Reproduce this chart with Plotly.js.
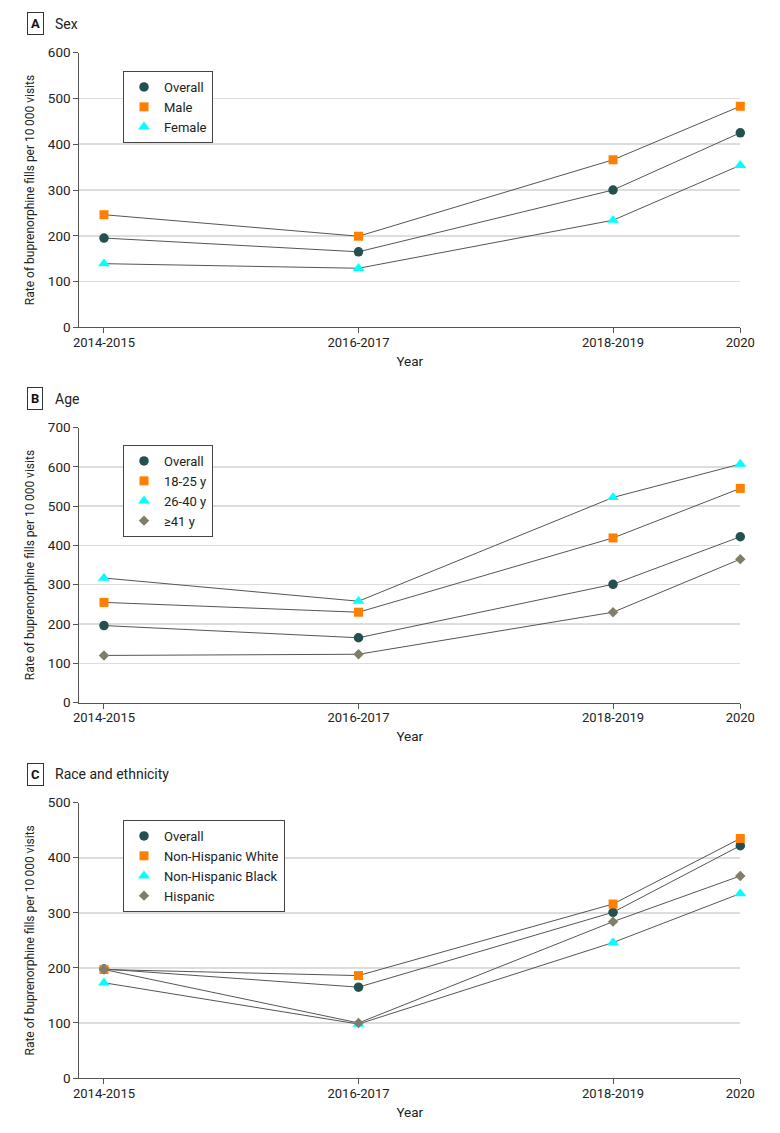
<!DOCTYPE html>
<html>
<head>
<meta charset="utf-8">
<script src="https://cdn.plot.ly/plotly-3.0.1.min.js"></script>
<style>
  html, body { margin: 0; padding: 0; background: #fff; }
  #chart { width: 780px; height: 1133px; }
</style>
</head>
<body>
<div id="chart"></div>
<script>
// ---- Data ----
const periodEnd = [2015, 2017, 2019, 2020];
const periodLabels = ["2014-2015", "2016-2017", "2018-2019", "2020"];

// Panel A: Sex
const sexOverall = [195, 165, 300, 425];
const sexMale = [246, 199, 366, 483];
const sexFemale = [139, 129, 234, 354];

// Panel B: Age
const ageOverall = [196, 165, 301, 422];
const age18to25 = [255, 230, 419, 545];
const age26to40 = [317, 258, 522, 607];
const age41plus = [120, 123, 230, 365];

// Panel C: Race and ethnicity
const raceOverall = [198, 165, 301, 422];
const raceWhite = [197, 186, 316, 435];
const raceBlack = [173, 98, 246, 335];
const raceHispanic = [197, 100, 284, 367];

// ---- Styles ----
const FONT = "Roboto, 'Liberation Sans', Arial, sans-serif";
const C_OVERALL = "#24504f";
const C_ORANGE = "#ff7f00";
const C_CYAN = "#00ffff";
const C_DIAMOND = "#817d68";
const LINE_COLOR = "#555555";

const W = 780, H = 1133;
const xDom = [79.3 / W, 740.3 / W];
const xRange = [2014.806, 2020];

function series(name, yvals, color, symbol, size, xa, ya, legend) {
  return [
    {
      x: periodEnd, y: yvals, xaxis: xa, yaxis: ya, mode: "lines",
      line: { color: LINE_COLOR, width: 1 }, showlegend: false,
      hoverinfo: "skip", cliponaxis: false
    },
    {
      x: periodEnd, y: yvals, xaxis: xa, yaxis: ya, mode: "markers",
      name: name, legend: legend, cliponaxis: false,
      marker: { color: color, symbol: symbol, size: size, line: { width: 0 } }
    }
  ];
}

const panels = [
  { xa: "x", ya: "y", leg: "legend", yTop: 52.7, yBot: 327.3, yMax: 600,
    items: [["Overall", sexOverall, C_OVERALL, "circle", 9.5],
            ["Male", sexMale, C_ORANGE, "square", 9],
            ["Female", sexFemale, C_CYAN, "triangle-up", 10.5]] },
  { xa: "x2", ya: "y2", leg: "legend2", yTop: 427.5, yBot: 702.6, yMax: 700,
    items: [["Overall", ageOverall, C_OVERALL, "circle", 9.5],
            ["18-25 y", age18to25, C_ORANGE, "square", 9],
            ["26-40 y", age26to40, C_CYAN, "triangle-up", 10.5],
            ["≥41 y", age41plus, C_DIAMOND, "diamond", 8]] },
  { xa: "x3", ya: "y3", leg: "legend3", yTop: 802.7, yBot: 1078, yMax: 500,
    items: [["Overall", raceOverall, C_OVERALL, "circle", 9.5],
            ["Non-Hispanic White", raceWhite, C_ORANGE, "square", 9],
            ["Non-Hispanic Black", raceBlack, C_CYAN, "triangle-up", 10.5],
            ["Hispanic", raceHispanic, C_DIAMOND, "diamond", 8]] }
];

const lineTraces = [], markerTraces = [];
panels.forEach(p => {
  p.items.forEach(it => {
    const t = series(it[0], it[1], it[2], it[3], it[4], p.xa, p.ya, p.leg);
    lineTraces.push(t[0]);
    markerTraces.push(t[1]);
  });
});
const data = lineTraces.concat(markerTraces);

const layout = {
  width: W, height: H,
  margin: { l: 0, r: 0, t: 0, b: 0 },
  paper_bgcolor: "#ffffff", plot_bgcolor: "#ffffff",
  font: { family: FONT, size: 13, color: "#222222" },
  showlegend: true,
  annotations: []
};

const panelLetters = ["A", "B", "C"];
const panelNames = ["Sex", "Age", "Race and ethnicity"];
const labelY = [24, 399, 774];
const legendTops = [71, 445, 820];

panels.forEach((p, i) => {
  const sfx = i === 0 ? "" : String(i + 1);
  layout["xaxis" + sfx] = {
    domain: xDom, range: xRange, anchor: "y" + sfx,
    tickmode: "array", tickvals: periodEnd, ticktext: periodLabels,
    ticks: "outside", ticklen: 5, tickcolor: LINE_COLOR, tickwidth: 1,
    ticklabelstandoff: -2,
    showline: true, linecolor: LINE_COLOR, linewidth: 1,
    showgrid: false, zeroline: false, fixedrange: true,
    tickfont: { size: 13, color: "#222" },
    title: { text: "Year", font: { size: 13.5, color: "#222" }, standoff: 7 }
  };
  layout["yaxis" + sfx] = {
    domain: [1 - p.yBot / H, 1 - p.yTop / H], range: [0, p.yMax], anchor: "x" + sfx,
    dtick: 100, tick0: 0,
    ticks: "outside", ticklen: 5, tickcolor: LINE_COLOR, tickwidth: 1,
    showline: true, linecolor: LINE_COLOR, linewidth: 1,
    showgrid: true, gridcolor: "#dddddd", gridwidth: 1.5,
    zeroline: false, fixedrange: true,
    tickfont: { size: 13.5, color: "#222" },
    title: { text: "Rate of buprenorphine fills per 10\u2009000 visits",
             font: { size: 12, color: "#222" }, standoff: 10 }
  };
  layout[p.leg] = {
    x: 123 / W, y: 1 - legendTops[i] / H, xanchor: "left", yanchor: "top",
    bgcolor: "#ffffff", bordercolor: "#444444", borderwidth: 1,
    font: { size: 13, color: "#222" }, itemclick: false, itemdoubleclick: false
  };
  layout.annotations.push({
    text: "<b>" + panelLetters[i] + "</b>", xref: "paper", yref: "paper",
    x: 35 / W, y: 1 - labelY[i] / H, xanchor: "center", yanchor: "middle",
    showarrow: false, bordercolor: "#333333", borderwidth: 1, borderpad: 3,
    bgcolor: "#ffffff", font: { size: 13, color: "#111" }
  });
  layout.annotations.push({
    text: panelNames[i], xref: "paper", yref: "paper",
    x: 53 / W, y: 1 - labelY[i] / H, xanchor: "left", yanchor: "middle",
    showarrow: false, font: { size: 14, color: "#222" }
  });
});

Plotly.newPlot("chart", data, layout, { staticPlot: true, displayModeBar: false });
</script>
</body>
</html>
